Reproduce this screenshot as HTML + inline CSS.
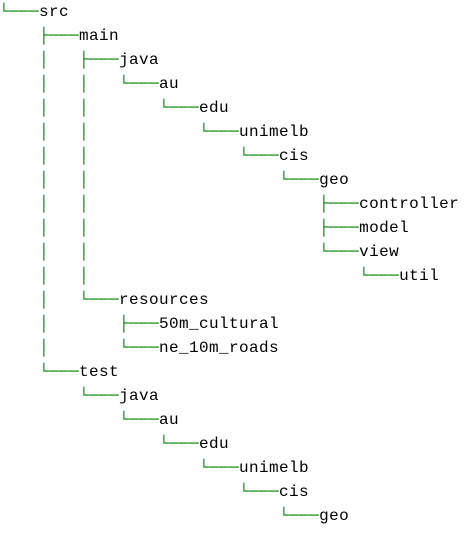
<!DOCTYPE html>
<html><head><meta charset="utf-8"><style>
html,body{margin:0;padding:0;background:#fff;width:470px;height:536px;overflow:hidden}
pre{position:absolute;left:-1px;top:0;margin:0;font-family:"Liberation Mono","DejaVu Sans Mono",monospace;font-size:16px;letter-spacing:0.4px;line-height:24px;color:#000}
.g{color:#008000}
</style></head><body>
<pre><span class="g">└───</span>src
<span class="g">    ├───</span>main
<span class="g">    │   ├───</span>java
<span class="g">    │   │   └───</span>au
<span class="g">    │   │       └───</span>edu
<span class="g">    │   │           └───</span>unimelb
<span class="g">    │   │               └───</span>cis
<span class="g">    │   │                   └───</span>geo
<span class="g">    │   │                       ├───</span>controller
<span class="g">    │   │                       ├───</span>model
<span class="g">    │   │                       └───</span>view
<span class="g">    │   │                           └───</span>util
<span class="g">    │   └───</span>resources
<span class="g">    │       ├───</span>50m_cultural
<span class="g">    │       └───</span>ne_10m_roads
<span class="g">    └───</span>test
<span class="g">        └───</span>java
<span class="g">            └───</span>au
<span class="g">                └───</span>edu
<span class="g">                    └───</span>unimelb
<span class="g">                        └───</span>cis
<span class="g">                            └───</span>geo</pre>
</body></html>
